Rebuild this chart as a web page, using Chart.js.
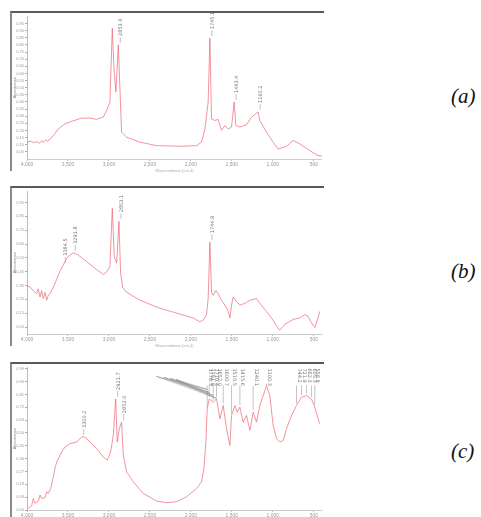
<!DOCTYPE html>
<html>
<head>
<meta charset="utf-8">
<script src="https://cdn.jsdelivr.net/npm/chart.js@4.4.1/dist/chart.umd.min.js"></script>
<style>
  body { margin: 0; background: #fff; width: 481px; height: 517px; overflow: hidden; position: relative; }
  .frame { position: absolute; left: 10px; width: 312px; height: 158px; border-top: 2px solid #5a5a5a; border-left: 2px solid #8a8a8a; }
  canvas { position: absolute; left: 0; top: 0; }
  .tag { position: absolute; left: 451px; font: italic 21px "Liberation Serif", serif; color: #111; }
</style>
</head>
<body>
<div class="frame" style="top:11px"><canvas id="specA" width="310" height="160"></canvas></div>
<div class="frame" style="top:186px"><canvas id="specB" width="310" height="160"></canvas></div>
<div class="frame" style="top:362px"><canvas id="specC" width="310" height="160"></canvas></div>
<div class="tag" style="top:84px">(a)</div>
<div class="tag" style="top:259px">(b)</div>
<div class="tag" style="top:439px">(c)</div>
<script>
// wavenumber axis ticks (cm-1)
const xTicks = [4000, 3500, 3000, 2500, 2000, 1500, 1000, 500];
const yTicksA = [0.05, 0.10, 0.15, 0.20, 0.25, 0.30, 0.35, 0.40, 0.45, 0.50, 0.55, 0.60, 0.65, 0.70, 0.75, 0.80, 0.85, 0.90, 0.95];
const yTicksB = [0.05, 0.15, 0.25, 0.35, 0.45, 0.55, 0.65, 0.75, 0.85, 0.95];
const yTicksC = [0.00, 0.09, 0.18, 0.27, 0.36, 0.45, 0.54, 0.63, 0.72, 0.81, 0.90, 0.99];

// spectrum (a)
const wnA = [4000, 3950, 3920, 3882, 3850, 3820, 3801, 3770, 3750, 3720, 3700, 3679, 3618, 3537, 3455, 3333, 3232, 3150, 3069, 3028, 2988, 2959, 2939, 2915, 2886, 2846, 2785, 2622, 2418, 2134, 1931, 1870, 1829, 1789, 1768, 1748, 1707, 1667, 1626, 1585, 1545, 1504, 1472, 1451, 1402, 1321, 1260, 1179, 1159, 1077, 996, 935, 833, 752, 671, 549, 448, 400];
const absA = [0.118, 0.126, 0.114, 0.122, 0.110, 0.128, 0.117, 0.136, 0.124, 0.140, 0.150, 0.165, 0.210, 0.247, 0.264, 0.287, 0.287, 0.278, 0.294, 0.341, 0.400, 0.918, 0.635, 0.470, 0.800, 0.188, 0.153, 0.118, 0.094, 0.089, 0.094, 0.118, 0.210, 0.400, 0.847, 0.282, 0.270, 0.278, 0.200, 0.235, 0.210, 0.224, 0.400, 0.235, 0.224, 0.240, 0.294, 0.330, 0.270, 0.188, 0.118, 0.070, 0.089, 0.130, 0.106, 0.059, 0.024, 0.020];

// spectrum (b)
const wnB = [4000, 3963, 3923, 3882, 3862, 3841, 3821, 3801, 3780, 3760, 3740, 3720, 3679, 3638, 3598, 3557, 3516, 3476, 3435, 3374, 3272, 3150, 3069, 3028, 2988, 2959, 2935, 2906, 2878, 2858, 2833, 2785, 2622, 2378, 2134, 1972, 1890, 1841, 1809, 1789, 1768, 1748, 1728, 1695, 1667, 1626, 1585, 1545, 1524, 1504, 1484, 1443, 1402, 1341, 1280, 1199, 1159, 1077, 1016, 955, 915, 854, 752, 671, 610, 570, 529, 488, 448, 427];
const absB = [0.349, 0.337, 0.314, 0.291, 0.326, 0.267, 0.314, 0.256, 0.300, 0.244, 0.280, 0.291, 0.337, 0.395, 0.453, 0.500, 0.547, 0.570, 0.586, 0.570, 0.523, 0.465, 0.430, 0.447, 0.488, 0.907, 0.558, 0.512, 0.814, 0.442, 0.337, 0.302, 0.244, 0.186, 0.144, 0.116, 0.088, 0.105, 0.140, 0.256, 0.663, 0.302, 0.279, 0.314, 0.291, 0.244, 0.209, 0.163, 0.116, 0.209, 0.267, 0.233, 0.209, 0.221, 0.244, 0.256, 0.221, 0.163, 0.116, 0.058, 0.028, 0.070, 0.105, 0.116, 0.140, 0.128, 0.081, 0.047, 0.116, 0.163];

// spectrum (c)
const wnC = [3984, 3943, 3923, 3902, 3862, 3841, 3821, 3780, 3760, 3740, 3711, 3687, 3659, 3638, 3606, 3577, 3537, 3476, 3394, 3333, 3293, 3232, 3150, 3069, 3020, 2980, 2947, 2918, 2898, 2874, 2846, 2825, 2785, 2703, 2581, 2418, 2297, 2175, 2053, 1931, 1870, 1841, 1817, 1801, 1776, 1728, 1687, 1646, 1606, 1565, 1524, 1504, 1463, 1435, 1402, 1362, 1321, 1280, 1240, 1199, 1159, 1118, 1077, 1037, 996, 955, 915, 874, 833, 772, 711, 650, 589, 529, 488, 448, 427];
const absC = [0.012, 0.030, 0.081, 0.047, 0.063, 0.105, 0.081, 0.086, 0.128, 0.116, 0.151, 0.209, 0.291, 0.337, 0.372, 0.407, 0.442, 0.465, 0.477, 0.512, 0.512, 0.477, 0.430, 0.372, 0.349, 0.407, 0.523, 0.779, 0.477, 0.570, 0.616, 0.384, 0.267, 0.198, 0.116, 0.063, 0.051, 0.058, 0.093, 0.151, 0.198, 0.291, 0.477, 0.709, 0.779, 0.756, 0.779, 0.640, 0.733, 0.570, 0.453, 0.663, 0.733, 0.686, 0.721, 0.616, 0.663, 0.558, 0.686, 0.616, 0.733, 0.802, 0.872, 0.802, 0.593, 0.500, 0.477, 0.488, 0.570, 0.663, 0.733, 0.791, 0.802, 0.779, 0.721, 0.640, 0.605];

// peak picks: wavenumber, label text
const peaksA = [[2886, '2853.6'], [1768, '1745.1'], [1472, '1463.4'], [1179, '1160.2']];
const peaksB = [[3557, '3384.5'], [3435, '3291.8'], [2878, '2853.1'], [1768, '1744.9']];
const peaksC = [[3333, '3300.2'], [2918, '2921.7'], [2846, '2852.0']];
const topPeaksC = [[1801, '1776.3'], [1776, '1751.8'], [1728, '1710.4'], [1687, '1652.0'], [1606, '1600.7'], [1504, '1510.5'], [1402, '1415.6'], [1240, '1240.1'], [1077, '1100.3'], [711, '744.2'], [650, '721.9'], [589, '662.0'], [529, '605.3'], [488, '558.8']];
const fanStartC = [2420, 2330, 2250, 2180];

const peakLabels = {
  id: 'peakLabels',
  afterDatasetsDraw(chart, args, opts) {
    const ctx = chart.ctx, xs = chart.scales.x, ys = chart.scales.y;
    const wn = opts.wn, ab = opts.ab;
    const valAt = w => ab[wn.indexOf(w)];
    ctx.save();
    ctx.font = '5px "DejaVu Sans"';
    ctx.fillStyle = '#777';
    ctx.strokeStyle = '#888';
    ctx.lineWidth = 0.5;
    (opts.peaks || []).forEach(([w, t]) => {
      const px = xs.getPixelForValue(w), py = ys.getPixelForValue(valAt(w));
      ctx.beginPath(); ctx.moveTo(px + 2, py - 2); ctx.lineTo(px + 2, py - 8); ctx.stroke();
      ctx.save(); ctx.translate(px + 4, py - 9); ctx.rotate(-Math.PI / 2);
      ctx.fillText(t, 0, 0); ctx.restore();
    });
    const top = chart.chartArea.top;
    (opts.topPeaks || []).forEach(([w, t]) => {
      const px = xs.getPixelForValue(w), py = ys.getPixelForValue(valAt(w));
      ctx.save(); ctx.translate(px + 1.5, top + 1); ctx.rotate(Math.PI / 2);
      ctx.fillText(t, 0, 0); ctx.restore();
      ctx.beginPath(); ctx.moveTo(px, top + 18); ctx.lineTo(px, py - 2); ctx.stroke();
    });
    ctx.strokeStyle = 'rgba(110,110,110,0.6)';
    ctx.lineWidth = 0.4;
    (opts.fan || []).forEach((w, i) => {
      const sx = xs.getPixelForValue(w);
      ctx.beginPath();
      for (let k = 0; k < 4; k++) {
        const [pw] = opts.topPeaks[k];
        ctx.moveTo(sx, top + 9 + i);
        ctx.lineTo(xs.getPixelForValue(pw), top + 22 + k * 3);
      }
      ctx.stroke();
    });
    ctx.restore();
  }
};

function drawSpectrum(id, wn, ab, yTicks, yMax, extra) {
  const ctx = document.getElementById(id);
  new Chart(ctx, {
    type: 'line',
    data: {
      datasets: [{
        data: wn.map((w, i) => ({ x: w, y: ab[i] })),
        borderColor: 'rgba(236,96,110,0.75)',
        borderWidth: 0.9,
        pointRadius: 0,
        lineTension: 0,
        fill: false
      }]
    },
    options: {
      responsive: false,
      animation: false,
      devicePixelRatio: 1,
      layout: { padding: { top: 2, right: 0 } },
      plugins: { legend: { display: false }, tooltip: { enabled: false }, peakLabels: extra },
      scales: {
        x: {
          type: 'linear', reverse: true, min: 400, max: 4000,
          afterBuildTicks: s => { s.ticks = xTicks.map(v => ({ value: v })); },
          afterFit: s => { s.height = 14; },
          ticks: { font: { size: 5 }, color: '#999', padding: 1, maxRotation: 0, autoSkip: false },
          grid: { display: true, drawOnChartArea: false, tickLength: 2, color: '#bbb' },
          border: { color: '#ccc' },
          title: { display: true, text: 'Wavenumbers (cm-1)', font: { size: 4 }, color: '#aaa', padding: 0 }
        },
        y: {
          min: 0, max: yMax,
          afterBuildTicks: s => { s.ticks = yTicks.map(v => ({ value: v })); },
          afterFit: s => { s.width = 15; },
          ticks: { font: { size: 4 }, color: '#999', padding: 1, autoSkip: false, callback: v => v.toFixed(2) },
          grid: { display: true, drawOnChartArea: false, tickLength: 2, color: '#aaa' },
          border: { color: '#bbb' },
          title: { display: true, text: 'Absorbance', font: { size: 4 }, color: '#888', padding: 0 }
        }
      }
    },
    plugins: [peakLabels]
  });
}

drawSpectrum('specA', wnA, absA, yTicksA, 1.0, { wn: wnA, ab: absA, peaks: peaksA });
drawSpectrum('specB', wnB, absB, yTicksB, 1.03, { wn: wnB, ab: absB, peaks: peaksB });
drawSpectrum('specC', wnC, absC, yTicksC, 1.0, { wn: wnC, ab: absC, peaks: peaksC, topPeaks: topPeaksC, fan: fanStartC });
</script>
</body>
</html>
